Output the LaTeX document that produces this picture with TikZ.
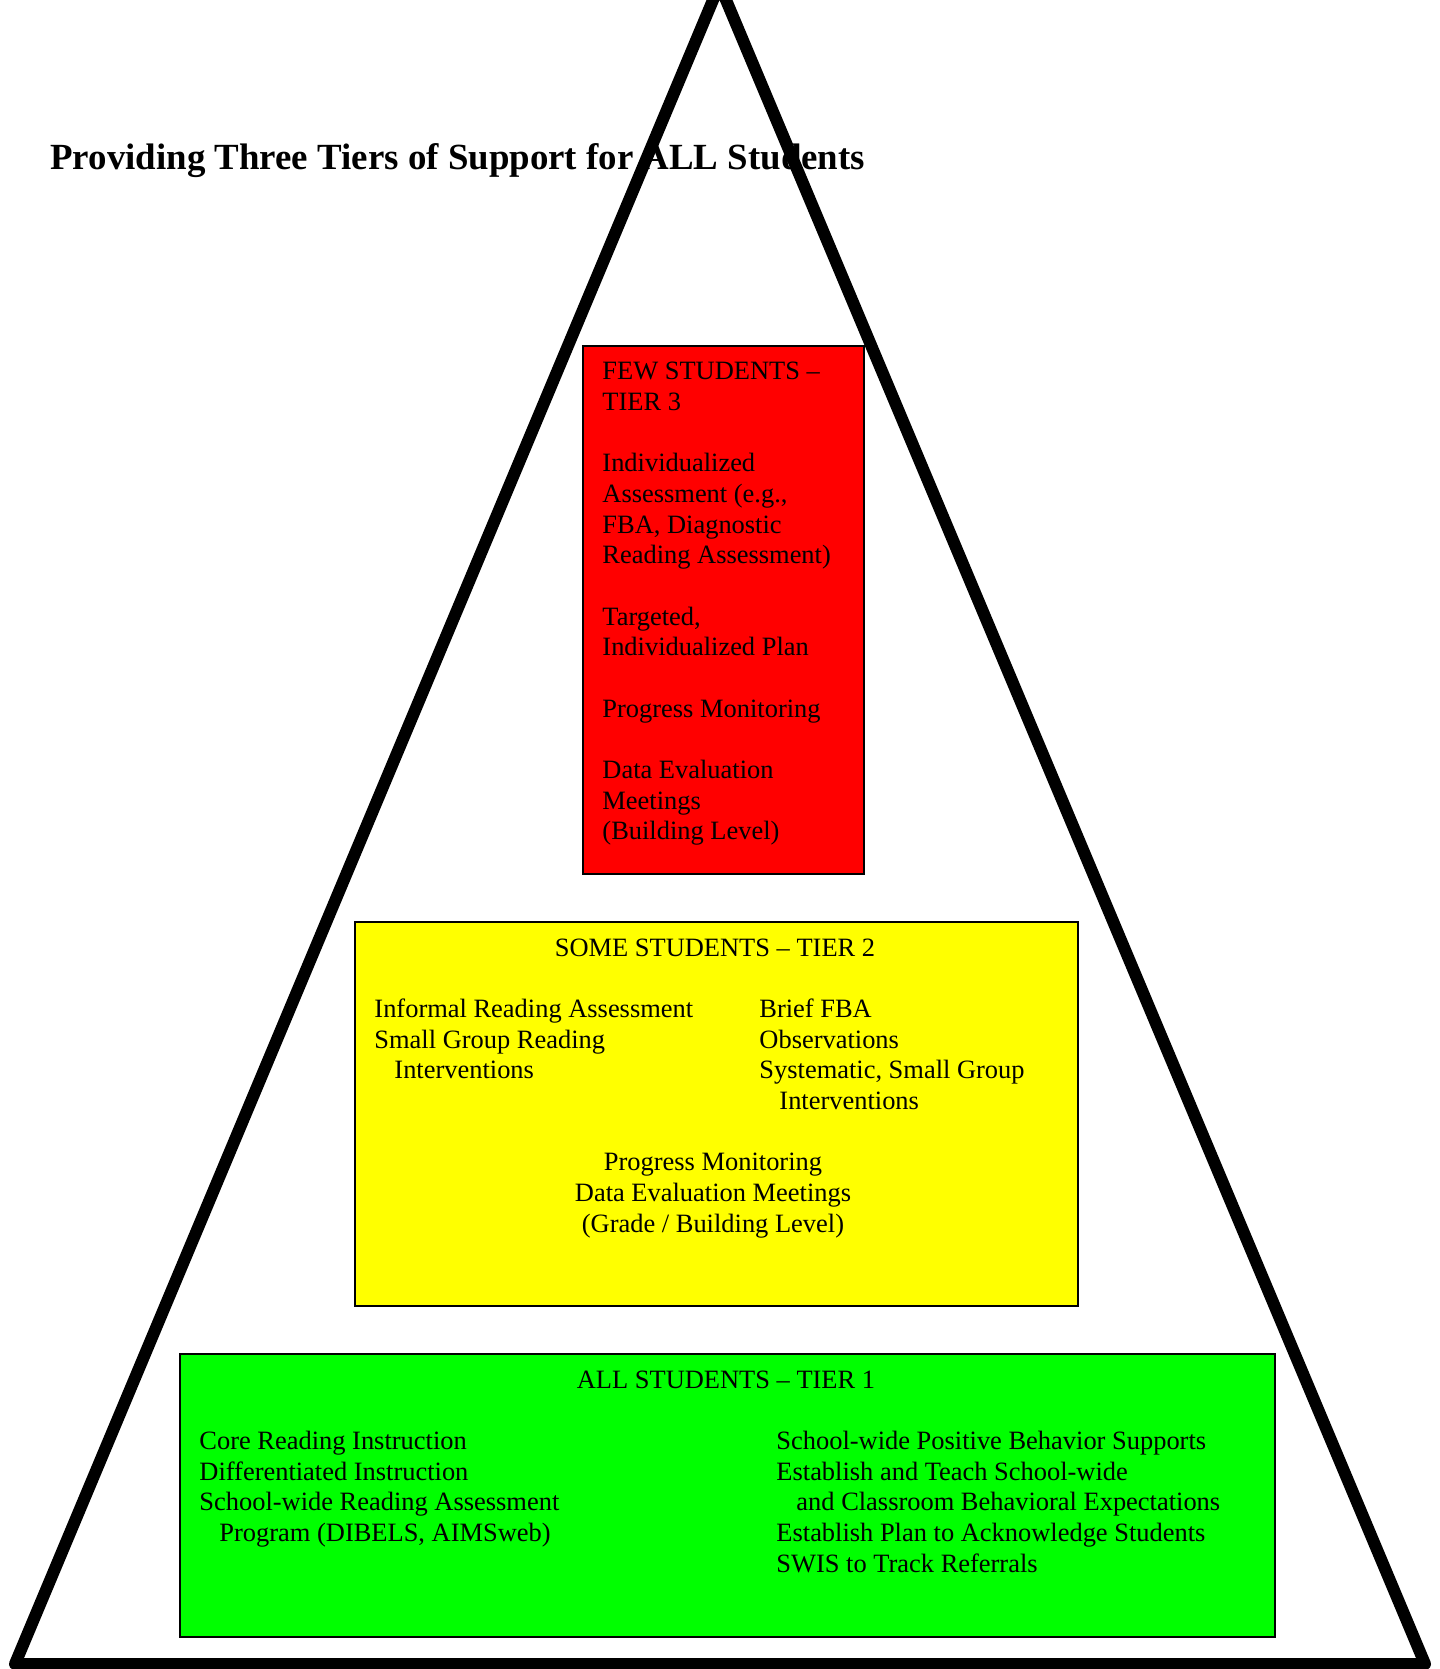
\documentclass[tikz,border=0pt]{standalone}
\usepackage{fontspec}
\setmainfont{Liberation Serif}
\usepackage{tikz}
\definecolor{tierred}{RGB}{255,0,0}
\definecolor{tieryellow}{RGB}{255,255,0}
\definecolor{tiergreen}{RGB}{0,255,0}

\begin{document}
\begin{tikzpicture}[x=0.45pt, y=-0.45pt,
    tierbox/.style ={draw, line width=0.9pt, anchor=north west, inner sep=0pt},
    tiertext/.style ={font=\fontsize{11.9}{13.8}\selectfont, inner sep=0pt, align=left, anchor=base west},
    tierhead/.style ={font=\fontsize{11.9}{13.8}\selectfont, inner sep=0pt, align=center, anchor=base}]
   \useasboundingbox (0,0) rectangle (1440,1669);

   \node[font=\bfseries\fontsize{16.6}{19}\selectfont, inner sep=0pt, anchor=base west] (title) at (50,169)
      {Providing Three Tiers of Support for ALL Students};

   \node[tierbox, fill=tierred, minimum width=126.45pt, minimum height=237.6pt] (few) at (582,345) {};
   \node[tierbox, fill=tieryellow, minimum width=325.35pt, minimum height=172.8pt] (some) at (354,921) {};
   \node[tierbox, fill=tiergreen, minimum width=492.75pt, minimum height=127.35pt] (all) at (179,1353) {};

   \node[tiertext] (fewtext) at (602,839.8) {FEW STUDENTS --\\ TIER 3\\[\baselineskip]
      Individualized\\ Assessment (e.g.,\\ FBA, Diagnostic\\ Reading Assessment)\\[\baselineskip]
      Targeted,\\ Individualized Plan\\[\baselineskip]
      Progress Monitoring\\[\baselineskip]
      Data Evaluation\\ Meetings\\ (Building Level)};

   \node[tierhead] (somehead) at (715,956) {SOME STUDENTS -- TIER 2};
   \node[tiertext] (someleft) at (374,1078.8) {Informal Reading Assessment\\ Small Group Reading\\
      \hspace*{9pt}Interventions};
   \node[tiertext] (someright) at (759,1109.5) {Brief FBA\\ Observations\\ Systematic, Small Group\\
      \hspace*{9pt}Interventions};
   \node[tierhead] (somecenter) at (713,1232.3) {Progress Monitoring\\ Data Evaluation Meetings\\
      (Grade / Building Level)};

   \node[tierhead] (allhead) at (726,1388) {ALL STUDENTS -- TIER 1};
   \node[tiertext] (allleft) at (199,1541.5) {Core Reading Instruction\\ Differentiated Instruction\\
      School-wide Reading Assessment\\ \hspace*{9pt}Program (DIBELS, AIMSweb)};
   \node[tiertext] (allright) at (776,1572.1) {School-wide Positive Behavior Supports\\
      Establish and Teach School-wide\\ \hspace*{9pt}and Classroom Behavioral Expectations\\
      Establish Plan to Acknowledge Students\\ SWIS to Track Referrals};

   \coordinate (apex) at (719.5,-15.5);
   \coordinate (left) at (15,1664);
   \coordinate (right) at (1425,1664);
   \draw[line width=5.4pt, line join=round] (apex) -- (left) -- (right) -- cycle;
 \end{tikzpicture}
\end{document}
